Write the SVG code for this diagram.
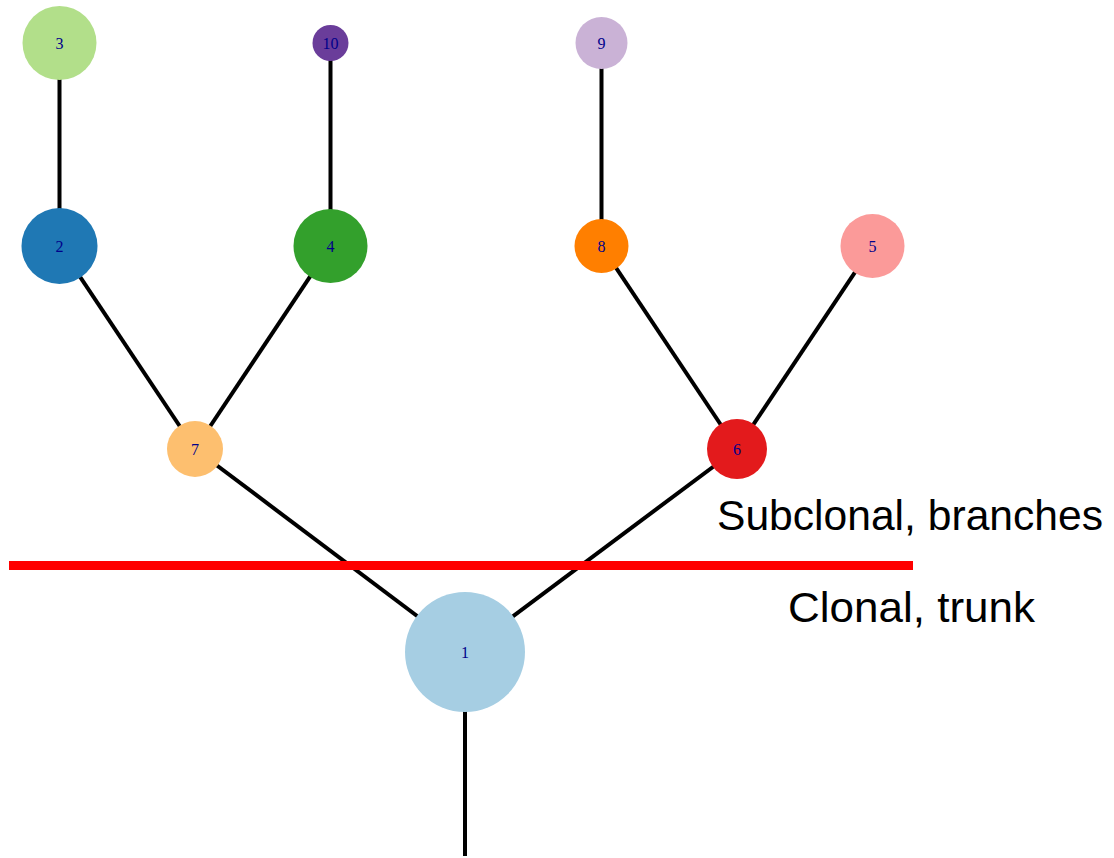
<svg xmlns="http://www.w3.org/2000/svg" width="1114" height="858" viewBox="0 0 1114 858">
<style>
.edge{stroke:#000;stroke-width:4;fill:none}
.lbl{font-family:"Liberation Serif","Times New Roman",serif;font-size:16px;fill:#00008b;text-anchor:middle;dominant-baseline:central}
.note{font-family:"Liberation Sans",Arial,sans-serif;font-size:42px;fill:#000}
</style>
<rect width="1114" height="858" fill="#fff"/>
<g id="connectors">
<line class="edge" x1="465" y1="652" x2="465" y2="856"/>
<line class="edge" x1="465" y1="652" x2="195" y2="449"/>
<line class="edge" x1="465" y1="652" x2="737" y2="449"/>
<line class="edge" x1="195" y1="449" x2="59.5" y2="246"/>
<line class="edge" x1="195" y1="449" x2="330.5" y2="246"/>
<line class="edge" x1="59.5" y1="246" x2="59.5" y2="43"/>
<line class="edge" x1="330.5" y1="246" x2="330.5" y2="43"/>
<line class="edge" x1="737" y1="449" x2="601.5" y2="246"/>
<line class="edge" x1="737" y1="449" x2="872.5" y2="246"/>
<line class="edge" x1="601.5" y1="246" x2="601.5" y2="43"/>
</g>
<g id="divider">
<line x1="9" y1="565.5" x2="913" y2="565.5" stroke="#ff0000" stroke-width="9"/>
</g>
<g id="node1"><circle cx="465" cy="652" r="60" fill="#a6cee3"/><text class="lbl" x="465" y="652">1</text></g>
<g id="node2"><circle cx="59.5" cy="246" r="38" fill="#1f78b4"/><text class="lbl" x="59.5" y="246">2</text></g>
<g id="node3"><circle cx="59.5" cy="43" r="37" fill="#b2df8a"/><text class="lbl" x="59.5" y="43">3</text></g>
<g id="node4"><circle cx="330.5" cy="246" r="37" fill="#33a02c"/><text class="lbl" x="330.5" y="246">4</text></g>
<g id="node5"><circle cx="872.5" cy="246" r="32" fill="#fb9a99"/><text class="lbl" x="872.5" y="246">5</text></g>
<g id="node6"><circle cx="737" cy="449" r="30" fill="#e31a1c"/><text class="lbl" x="737" y="449">6</text></g>
<g id="node7"><circle cx="195" cy="449" r="28" fill="#fdbf6f"/><text class="lbl" x="195" y="449">7</text></g>
<g id="node8"><circle cx="601.5" cy="246" r="27" fill="#ff7f00"/><text class="lbl" x="601.5" y="246">8</text></g>
<g id="node9"><circle cx="601.5" cy="43" r="26" fill="#cab2d6"/><text class="lbl" x="601.5" y="43">9</text></g>
<g id="node10"><circle cx="330.5" cy="43" r="18" fill="#6a3d9a"/><text class="lbl" x="330.5" y="43">10</text></g>
<g id="labels">
<text class="note" x="717" y="530" textLength="386" lengthAdjust="spacingAndGlyphs">Subclonal, branches</text>
<text class="note" x="788" y="621.5" textLength="247" lengthAdjust="spacingAndGlyphs">Clonal, trunk</text>
</g>
</svg>
